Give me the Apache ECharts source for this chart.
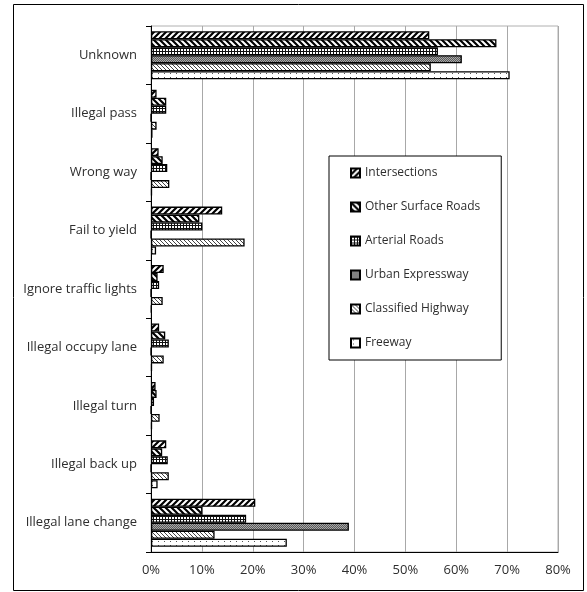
<!DOCTYPE html>
<html>
<head>
<meta charset="utf-8">
<script src="https://cdn.jsdelivr.net/npm/echarts@6/dist/echarts.min.js"></script>
<style>
  html, body { margin: 0; padding: 0; background: #fff; }
  #chart { width: 587px; height: 592px; }
</style>
</head>
<body>
<div id="chart"></div>
<script>
// Violation categories, listed top to bottom
const categories = [
  'Unknown', 'Illegal pass', 'Wrong way', 'Fail to yield', 'Ignore traffic lights',
  'Illegal occupy lane', 'Illegal turn', 'Illegal back up', 'Illegal lane change'
];

// Share of accidents (%) per road type, same order as categories
const intersections     = [54.7, 1.1, 1.5, 14.0, 2.5, 1.6, 0.9, 3.0, 20.5];
const otherSurfaceRoads = [67.9, 3.0, 2.3,  9.5, 1.3, 2.8, 1.1, 2.2, 10.1];
const arterialRoads     = [56.4, 3.0, 3.2, 10.1, 1.6, 3.5, 0.6, 3.3, 18.7];
const urbanExpressway   = [61.1, 0,   0,    0,   0,   0,   0,   0,   38.9];
const classifiedHighway = [55.0, 1.1, 3.6, 18.4, 2.3, 2.5, 1.7, 3.5, 12.5];
const freeway           = [70.5, 0.3, 0.2,  1.0, 0.1, 0.2, 0.2, 1.3, 26.7];

const seriesNames = ['Intersections', 'Other Surface Roads', 'Arterial Roads',
                     'Urban Expressway', 'Classified Highway', 'Freeway'];
const seriesValues = [intersections, otherSurfaceRoads, arterialRoads,
                      urbanExpressway, classifiedHighway, freeway];

const xTicks = [0, 10, 20, 30, 40, 50, 60, 70, 80];

// ---- monochrome fill patterns ----
function tile(w, h, draw) {
  const c = document.createElement('canvas');
  c.width = w; c.height = h;
  const ctx = c.getContext('2d');
  ctx.fillStyle = '#fff';
  ctx.fillRect(0, 0, w, h);
  draw(ctx, w, h);
  return { image: c, repeat: 'repeat' };
}
function lines(ctx, segs, width, color) {
  ctx.strokeStyle = color; ctx.lineWidth = width; ctx.lineCap = 'butt';
  ctx.beginPath();
  segs.forEach(s => { ctx.moveTo(s[0], s[1]); ctx.lineTo(s[2], s[3]); });
  ctx.stroke();
}
const patterns = [
  // wide forward stripes
  tile(6, 6, (ctx) => lines(ctx, [[-1, 7, 7, -1], [-1, 1, 1, -1], [5, 7, 7, 5]], 2.2, '#000')),
  // wide back stripes
  tile(6, 6, (ctx) => lines(ctx, [[-1, -1, 7, 7], [5, -1, 7, 1], [-1, 5, 1, 7]], 2.2, '#000')),
  // small grid
  tile(3, 3, (ctx) => { ctx.fillStyle = '#111'; ctx.fillRect(0, 0, 1, 3); ctx.fillRect(0, 0, 3, 1); }),
  // dark stipple
  tile(2, 2, (ctx) => { ctx.fillStyle = '#5a5a5a'; ctx.fillRect(0, 0, 2, 2);
                        ctx.fillStyle = '#a8a8a8'; ctx.fillRect(0, 0, 1, 1); ctx.fillRect(1, 1, 1, 1); }),
  // fine back hatch
  tile(4, 4, (ctx) => lines(ctx, [[-1, -1, 5, 5], [3, -1, 5, 1], [-1, 3, 1, 5]], 1, '#444')),
  // sparse dots
  tile(6, 4, (ctx) => { ctx.fillStyle = '#555'; ctx.fillRect(2, 1, 1, 1); })
];

const FONT = '"Open Sans", "Liberation Sans", sans-serif';
const TEXT = '#2e2e2e';

const chart = echarts.init(document.getElementById('chart'), null, { renderer: 'canvas' });

chart.setOption({
  animation: false,
  backgroundColor: '#fff',
  textStyle: { fontFamily: FONT },
  graphic: [{
    type: 'rect',
    shape: { x: 13.5, y: 4.5, width: 570, height: 586 },
    style: { fill: 'none', stroke: '#000', lineWidth: 1 },
    silent: true
  }],
  grid: {
    left: 151, right: 29, top: 26, bottom: 40,
    show: true, borderColor: '#b0b0b0', borderWidth: 1
  },
  legend: {
    orient: 'vertical',
    left: 329, top: 156,
    padding: [10, 21, 10, 21],
    itemGap: 20,
    itemWidth: 9, itemHeight: 9,
    icon: 'rect',
    backgroundColor: '#fff',
    borderColor: '#000', borderWidth: 1,
    textStyle: { fontFamily: FONT, fontSize: 12, color: TEXT, lineHeight: 14 },
    data: seriesNames
  },
  xAxis: {
    type: 'value',
    min: xTicks[0], max: xTicks[xTicks.length - 1], interval: 10,
    axisLine: { show: true, lineStyle: { color: '#000', width: 1 } },
    axisTick: { show: false },
    splitLine: { show: true, lineStyle: { color: '#a8a8a8', width: 1 } },
    axisLabel: { formatter: '{value}%', fontFamily: FONT, fontSize: 13, color: TEXT, margin: 12 }
  },
  yAxis: {
    type: 'category',
    inverse: true,
    data: categories,
    axisLine: { show: true, lineStyle: { color: '#000', width: 1 } },
    axisTick: { show: true, length: 5, lineStyle: { color: '#000' } },
    axisLabel: { fontFamily: FONT, fontSize: 13, color: TEXT, margin: 14 }
  },
  series: seriesNames.map((name, i) => ({
    name: name,
    type: 'bar',
    data: seriesValues[i],
    barGap: '0%',
    barCategoryGap: '18%',
    itemStyle: { color: patterns[i], borderColor: '#000', borderWidth: 1.3 }
  }))
});
</script>
</body>
</html>
